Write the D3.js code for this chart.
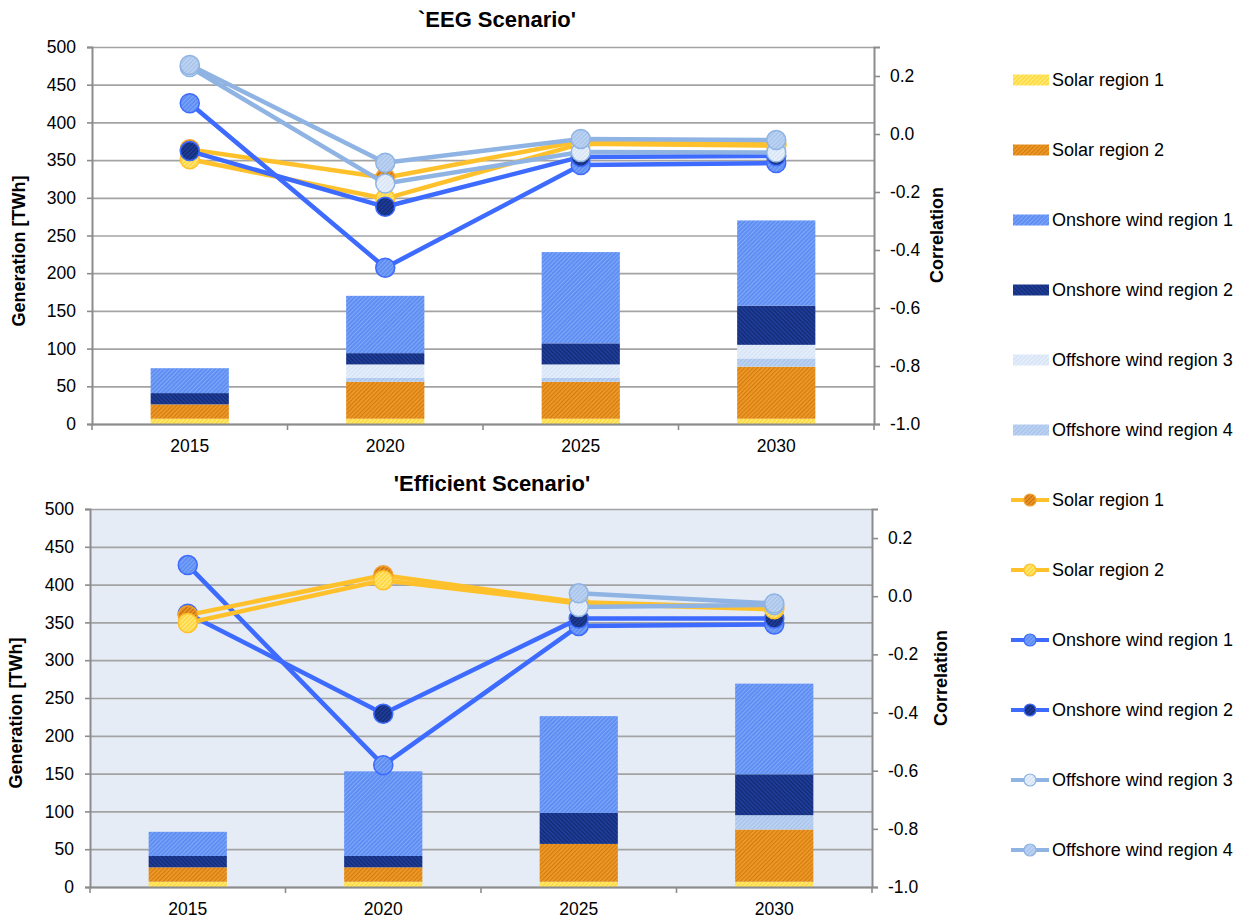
<!DOCTYPE html>
<html>
<head>
<meta charset="utf-8">
<script src="https://cdnjs.cloudflare.com/ajax/libs/d3/7.8.5/d3.min.js"></script>
<style>
  body { margin: 0; background: #fff; }
  svg { display: block; font-family: "Liberation Sans", Arial, sans-serif; }
</style>
</head>
<body>
<svg id="chart" width="1245" height="920"></svg>
<script>
const years = ['2015', '2020', '2025', '2030'];
const seriesNames = ['Solar region 1', 'Solar region 2', 'Onshore wind region 1',
  'Onshore wind region 2', 'Offshore wind region 3', 'Offshore wind region 4'];
const genTicks = [0, 50, 100, 150, 200, 250, 300, 350, 400, 450, 500];
const corrTicks = [-1.0, -0.8, -0.6, -0.4, -0.2, 0.0, 0.2];

// generation [TWh] per year, series in legend order
const eegGeneration = [
  [7, 19, 33, 15, 0, 0],
  [7, 49, 76, 15, 18, 5],
  [7, 49, 121, 28, 18, 5],
  [7, 69, 113, 52, 18, 11],
];
const effGeneration = [
  [7, 19, 32, 15, 0, 0],
  [7, 19, 112, 15, 0, 0],
  [7, 50, 128, 41, 0, 0],
  [7, 69, 120, 54, 0, 19],
];

// correlation per series (legend order), one value per year
const eegCorrelation = [
  [-0.053, -0.151, -0.024, -0.036],
  [-0.087, -0.223, -0.034, -0.040],
  [0.106, -0.461, -0.107, -0.100],
  [-0.059, -0.251, -0.079, -0.076],
  [0.231, -0.171, -0.062, -0.064],
  [0.238, -0.099, -0.017, -0.021],
];
const effCorrelation = [
  [-0.065, 0.072, -0.021, -0.040],
  [-0.092, 0.055, -0.025, -0.045],
  [0.107, -0.581, -0.102, -0.097],
  [-0.060, -0.404, -0.077, -0.077],
  [null, null, -0.037, -0.030],
  [null, null, 0.010, -0.025],
];

const stackOrder = [0, 1, 5, 4, 3, 2]; // bottom to top
const barPatterns = [
  ['#FFD93B', '#FFEE85'], ['#EE9A25', '#D47A14'], ['#5B8CF2', '#80A7F8'],
  ['#1F3E9C', '#12296E'], ['#D6E4F6', '#EAF1FB'], ['#A9C5EC', '#C3D7F3'],
];
const markerPatterns = [
  ['#EE9A25', '#C26A10'], ['#FFD53B', '#FFEB8A'], ['#5B8CF2', '#80A7F8'],
  ['#1F3E9C', '#12296E'], ['#D6E4F6', '#EEF3FB'], ['#A9C5EC', '#C3D7F3'],
];
const lineColors = ['#FFC12B', '#FFC12B', '#3D6AFF', '#3D6AFF', '#8FB4E3', '#8FB4E3'];
const markerStroke = ['#F2A02E', '#FFC12B', '#3D6AFF', '#3D6AFF', '#8FB4E3', '#8FB4E3'];

const svg = d3.select('#chart');
const defs = svg.append('defs');

function addPattern(id, base, stripe, angle) {
  const p = defs.append('pattern')
    .attr('id', id)
    .attr('patternUnits', 'userSpaceOnUse')
    .attr('width', 3).attr('height', 3)
    .attr('patternTransform', `rotate(${angle})`);
  p.append('rect').attr('width', 3).attr('height', 3).attr('fill', base);
  p.append('rect').attr('width', 1.2).attr('height', 3).attr('fill', stripe);
}
barPatterns.forEach((c, i) => addPattern(`bar${i}`, c[0], c[1], i === 3 ? -45 : 45));
markerPatterns.forEach((c, i) => addPattern(`mk${i}`, c[0], c[1], 45));

function drawChart(cfg) {
  const { x0, x1, y0, y1 } = cfg;
  const g = svg.append('g');

  if (cfg.background) {
    g.append('rect').attr('x', x0).attr('y', y0)
      .attr('width', x1 - x0).attr('height', y1 - y0).attr('fill', cfg.background);
  }

  const x = d3.scaleBand().domain(years).range([x0, x1]);
  const y = d3.scaleLinear().domain([0, 500]).range([y1, y0]);
  const yc = d3.scaleLinear().domain([-1, 0.3]).range([y1, y0]);

  // gridlines
  g.append('g')
    .attr('transform', `translate(${x0},0)`)
    .call(d3.axisLeft(y).tickValues(genTicks).tickSize(-(x1 - x0)).tickFormat(''))
    .call(s => s.select('.domain').remove())
    .call(s => s.selectAll('line').attr('stroke', '#A3A3A3').attr('stroke-width', 1.7));

  // stacked bars
  const rows = cfg.generation.map((r, i) => {
    const o = { year: years[i] };
    r.forEach((v, k) => { o[k] = v; });
    return o;
  });
  const stacked = d3.stack().keys(stackOrder)(rows);
  const bw = x.bandwidth() * 0.4;
  stacked.forEach((layer) => {
    g.append('g').selectAll('rect')
      .data(layer.filter(d => d[1] - d[0] > 0))
      .join('rect')
      .attr('x', d => x(d.data.year) + (x.bandwidth() - bw) / 2)
      .attr('width', bw)
      .attr('y', d => y(d[1]))
      .attr('height', d => y(d[0]) - y(d[1]))
      .attr('fill', `url(#bar${layer.key})`);
  });

  // axes
  const left = g.append('g')
    .attr('transform', `translate(${x0},0)`)
    .call(d3.axisLeft(y).tickValues(genTicks).tickSize(5).tickPadding(11));
  const right = g.append('g')
    .attr('transform', `translate(${x1},0)`)
    .call(d3.axisRight(yc).tickValues(corrTicks).tickSize(6).tickPadding(10)
      .tickFormat(d => d.toFixed(1)));
  const bottom = g.append('g')
    .attr('transform', `translate(0,${y1})`)
    .call(d3.axisBottom(x).tickSize(0).tickPadding(16));
  [left, right, bottom].forEach((a) => {
    a.select('.domain').attr('stroke', '#8C8C8C').attr('stroke-width', 2);
    a.selectAll('line').attr('stroke', '#8C8C8C').attr('stroke-width', 1.6);
    a.selectAll('text').attr('font-size', 17.5).attr('fill', '#000')
      .attr('font-family', '"Liberation Sans", Arial, sans-serif');
  });
  // category boundary ticks
  const edges = years.map(d => x(d)).concat([x1]);
  g.append('g').selectAll('line').data(edges).join('line')
    .attr('x1', d => d).attr('x2', d => d)
    .attr('y1', y1).attr('y2', y1 + 6)
    .attr('stroke', '#8C8C8C').attr('stroke-width', 1.6);

  // correlation lines
  const line = d3.line()
    .defined(d => d.v != null)
    .x(d => x(d.year) + x.bandwidth() / 2)
    .y(d => yc(d.v));
  cfg.drawOrder.forEach((k) => {
    const pts = cfg.correlation[k].map((v, i) => ({ year: years[i], v }));
    const s = g.append('g');
    s.append('path').datum(pts)
      .attr('d', line)
      .attr('fill', 'none')
      .attr('stroke', lineColors[k])
      .attr('stroke-width', 4.5)
      .attr('stroke-linejoin', 'round');
    s.selectAll('circle').data(pts.filter(d => d.v != null)).join('circle')
      .attr('cx', d => x(d.year) + x.bandwidth() / 2)
      .attr('cy', d => yc(d.v))
      .attr('r', 9.5)
      .attr('fill', `url(#mk${k})`)
      .attr('stroke', markerStroke[k])
      .attr('stroke-width', 1.5);
  });

  // titles
  g.append('text')
    .attr('x', cfg.titleX).attr('y', cfg.titleY)
    .attr('text-anchor', 'middle')
    .attr('font-size', 22).attr('font-weight', 'bold')
    .text(cfg.title);
  g.append('text')
    .attr('transform', `translate(${cfg.genLabel[0]},${cfg.genLabel[1]}) rotate(-90)`)
    .attr('text-anchor', 'middle').attr('dy', '0.35em')
    .attr('font-size', 18).attr('font-weight', 'bold')
    .text('Generation [TWh]');
  g.append('text')
    .attr('transform', `translate(${cfg.corrLabel[0]},${cfg.corrLabel[1]}) rotate(-90)`)
    .attr('text-anchor', 'middle').attr('dy', '0.35em')
    .attr('font-size', 18).attr('font-weight', 'bold')
    .text('Correlation');
}

drawChart({
  x0: 92, x1: 874, y0: 47, y1: 424,
  generation: eegGeneration,
  correlation: eegCorrelation,
  drawOrder: [0, 1, 2, 3, 4, 5],
  title: '`EEG Scenario\'', titleX: 497, titleY: 27,
  genLabel: [19, 251], corrLabel: [937, 235],
});
drawChart({
  x0: 90, x1: 872, y0: 509, y1: 887,
  background: '#E6ECF6',
  generation: effGeneration,
  correlation: effCorrelation,
  drawOrder: [2, 3, 0, 1, 4, 5],
  title: '\'Efficient Scenario\'', titleX: 492, titleY: 491,
  genLabel: [16, 713], corrLabel: [941, 678],
});

// legends
const legTop = svg.append('g');
seriesNames.forEach((name, i) => {
  const cy = 80 + i * 70;
  legTop.append('rect').attr('x', 1013).attr('y', cy - 5.5)
    .attr('width', 36).attr('height', 11).attr('fill', `url(#bar${i})`);
  legTop.append('text').attr('x', 1052).attr('y', cy).attr('dy', '0.36em')
    .attr('font-size', 18).text(name);
});
const legBottom = svg.append('g');
seriesNames.forEach((name, i) => {
  const cy = 500 + i * 70;
  legBottom.append('line').attr('x1', 1011).attr('x2', 1049)
    .attr('y1', cy).attr('y2', cy)
    .attr('stroke', lineColors[i]).attr('stroke-width', 4);
  legBottom.append('circle').attr('cx', 1030).attr('cy', cy).attr('r', 6)
    .attr('fill', `url(#mk${i})`).attr('stroke', markerStroke[i]).attr('stroke-width', 1.2);
  legBottom.append('text').attr('x', 1052).attr('y', cy).attr('dy', '0.36em')
    .attr('font-size', 18).text(name);
});
</script>
</body>
</html>
